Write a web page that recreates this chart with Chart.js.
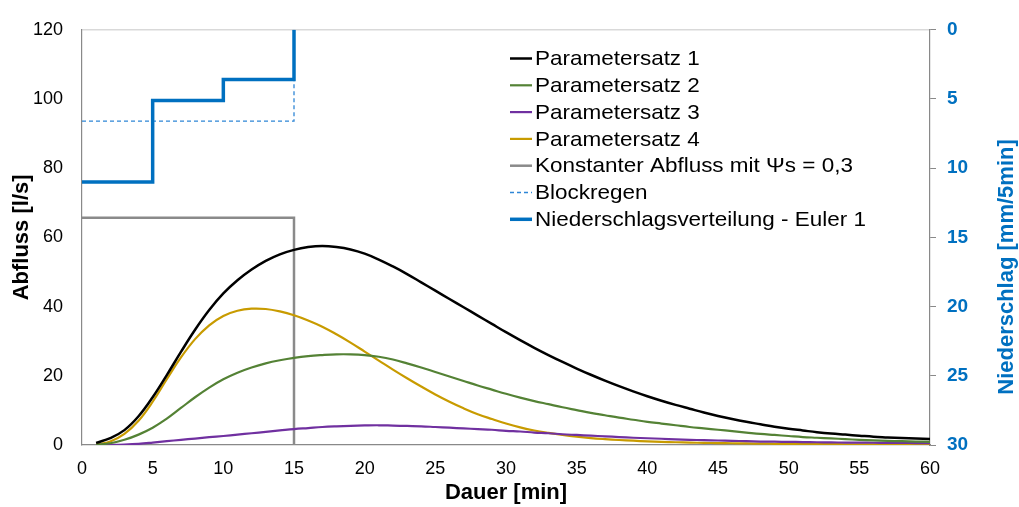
<!DOCTYPE html>
<html>
<head>
<meta charset="utf-8">
<script src="https://cdn.jsdelivr.net/npm/chart.js@4/dist/chart.umd.min.js"></script>
<style>
html,body{margin:0;padding:0;background:#fff;}
#wrap{width:1019px;height:507px;position:relative;}
</style>
</head>
<body>
<div id="wrap"><canvas id="c"></canvas></div>
<script>
// ---- data ----
const minutes = [1,2,3,4,5,6,7,8,9,10,11,12,13,14,15,16,17,18,19,20,21,22,23,24,25,26,27,28,29,30,31,32,33,34,35,36,37,38,39,40,41,42,43,44,45,46,47,48,49,50,51,52,53,54,55,56,57,58,59,60];
const parametersatz1 = [0.6,2.0,4.3,8.3,13.8,20.2,26.9,33.3,39.0,43.8,47.6,50.7,53.2,55.1,56.4,57.2,57.5,57.2,56.5,55.3,53.6,51.6,49.4,47.0,44.6,42.2,39.8,37.4,35.0,32.6,30.3,28.1,26.0,24.0,22.1,20.3,18.6,17.0,15.5,14.1,12.8,11.6,10.5,9.4,8.4,7.5,6.7,6.0,5.3,4.7,4.2,3.7,3.3,3.0,2.7,2.4,2.2,2.0,1.85,1.7];
const parametersatz2 = [0.1,0.5,1.5,3.0,5.0,7.6,10.7,13.8,16.6,19.0,20.9,22.4,23.6,24.5,25.2,25.7,26.0,26.2,26.2,26.0,25.5,24.7,23.6,22.4,21.1,19.8,18.5,17.2,16.0,14.8,13.7,12.7,11.8,10.9,10.1,9.3,8.6,7.9,7.3,6.7,6.2,5.7,5.2,4.8,4.4,4.0,3.6,3.2,2.9,2.6,2.3,2.1,1.9,1.7,1.5,1.35,1.2,1.1,1.0,0.9];
const parametersatz3 = [0,0.05,0.15,0.35,0.7,1.1,1.5,1.85,2.25,2.6,3.0,3.4,3.8,4.2,4.6,4.9,5.2,5.4,5.55,5.65,5.7,5.6,5.5,5.4,5.2,5.0,4.8,4.6,4.4,4.1,3.9,3.6,3.4,3.1,2.9,2.7,2.5,2.3,2.1,1.95,1.8,1.65,1.5,1.4,1.3,1.2,1.1,1.0,0.95,0.9,0.85,0.8,0.75,0.7,0.7,0.65,0.6,0.6,0.55,0.5];
const parametersatz4 = [0.1,1.0,3.2,7.0,12.5,19.0,25.3,30.6,34.6,37.3,38.8,39.4,39.3,38.6,37.5,36.0,34.2,32.0,29.6,27.0,24.4,21.8,19.3,16.9,14.6,12.5,10.6,8.9,7.5,6.2,5.1,4.2,3.5,2.9,2.4,2.0,1.7,1.45,1.25,1.05,0.9,0.8,0.7,0.6,0.55,0.5,0.45,0.4,0.35,0.3,0.3,0.25,0.25,0.2,0.2,0.2,0.15,0.15,0.1,0.1];
const rainEdges = [0,5,10,15];          // interval borders [min]
const eulerRain = [11.0,5.1,3.6];       // mm/5min per interval
const blockEdges = [0,15];
const blockRain = [6.6];                // mm/5min
const constEdges = [0,15];
const constFlow = [65.7];               // l/s
const labels = ['Parametersatz 1','Parametersatz 2','Parametersatz 3','Parametersatz 4','Konstanter Abfluss mit \u03A8s = 0,3','Blockregen','Niederschlagsverteilung - Euler 1'];

// ---- helpers ----
const curve = ys => minutes.map((m,i)=>({x:m,y:ys[i]}));
function steps(edges, vals){
  const pts=[];
  vals.forEach((v,i)=>{pts.push({x:edges[i],y:v});pts.push({x:edges[i+1],y:v});});
  pts.push({x:edges[edges.length-1],y:0});
  return pts;
}

const FONT = '"Liberation Sans", Arial, sans-serif';
const AXIS = '#898989';
const BLUE = '#0070c0';

const overlay = {
  id:'overlay',
  beforeDraw(chart){
    const c=chart.ctx; c.save(); c.fillStyle='#fff'; c.fillRect(0,0,chart.width,chart.height); c.restore();
  },
  afterDraw(chart){
    const c = chart.ctx;
    c.save();
    const x0=510, x1=532, tx=535, y0=58.5, dy=26.8, sx=1.07;
    chart.data.datasets.forEach((ds,i)=>{
      const y=y0+i*dy;
      c.beginPath();
      c.strokeStyle=ds.borderColor; c.lineWidth=ds.borderWidth; c.setLineDash(ds.borderDash||[]);
      c.moveTo(x0,y); c.lineTo(x1,y); c.stroke();
      c.setLineDash([]);
      c.save();
      c.translate(tx, y+1);
      c.scale(sx,1);
      c.fillStyle='#000'; c.font='21px '+FONT; c.textBaseline='middle'; c.textAlign='left';
      c.fillText(ds.label, 0, 0);
      c.restore();
    });
    c.translate(1006.5, 267);
    c.rotate(-Math.PI/2);
    c.font='bold 22px '+FONT; c.fillStyle=BLUE; c.textAlign='center'; c.textBaseline='middle';
    c.fillText('Niederschlag [mm/5min]',0,0);
    c.restore();
  }
};

const common = {pointRadius:0, pointHoverRadius:0, fill:false};
new Chart(document.getElementById('c'), {
  type:'line',
  data:{datasets:[
    {...common, label:labels[0], data:curve(parametersatz1), borderColor:'#000000', borderWidth:2.5, tension:0.4, yAxisID:'y'},
    {...common, label:labels[1], data:curve(parametersatz2), borderColor:'#548235', borderWidth:2.2, tension:0.4, yAxisID:'y'},
    {...common, label:labels[2], data:curve(parametersatz3), borderColor:'#7030a0', borderWidth:2.2, tension:0.4, yAxisID:'y'},
    {...common, label:labels[3], data:curve(parametersatz4), borderColor:'#c89b00', borderWidth:2.2, tension:0.4, yAxisID:'y'},
    {...common, label:labels[4], data:steps(constEdges,constFlow), borderColor:'#8a8a8a', borderWidth:2.5, tension:0, yAxisID:'y'},
    {...common, label:labels[5], data:steps(blockEdges,blockRain), borderColor:'#2e86d6', borderWidth:1.3, borderDash:[4,3], tension:0, yAxisID:'y2'},
    {...common, label:labels[6], data:steps(rainEdges,eulerRain), borderColor:BLUE, borderWidth:3.5, tension:0, yAxisID:'y2', order:-1}
  ]},
  options:{
    responsive:true, maintainAspectRatio:false, animation:false,
    layout:{padding:{top:21,left:0,right:0,bottom:0}},
    plugins:{legend:{display:false}, tooltip:{enabled:false}},
    scales:{
      x:{type:'linear', min:0, max:60,
        ticks:{stepSize:5, color:'#000', font:{family:FONT,size:18}, padding:13, maxRotation:0},
        grid:{drawOnChartArea:false, drawTicks:false},
        border:{color:AXIS, width:1.2},
        title:{display:true, text:'Dauer [min]', color:'#000', font:{family:FONT,size:22,weight:'bold'}, padding:{top:0,bottom:1}},
        afterFit:s=>{s.height=62;}
      },
      y:{position:'left', min:0, max:120,
        ticks:{stepSize:20, color:'#000', font:{family:FONT,size:18}, padding:19},
        grid:{drawTicks:false, color:ctx=>(ctx.tick && ctx.tick.value===120)?'#d9d9d9':'rgba(0,0,0,0)', lineWidth:1.5},
        border:{color:AXIS, width:1.2},
        title:{display:true, text:'Abfluss [l/s]', color:'#000', font:{family:FONT,size:22,weight:'bold'}, padding:{top:9,bottom:0}},
        afterFit:s=>{s.width=82;}
      },
      y2:{position:'right', min:0, max:30, reverse:true,
        ticks:{stepSize:5, color:BLUE, font:{family:FONT,size:19,weight:'bold'}, padding:11},
        grid:{drawOnChartArea:false, drawTicks:true, tickLength:6, color:AXIS},
        border:{color:AXIS, width:1.2},
        afterFit:s=>{s.width=89;}
      }
    }
  },
  plugins:[overlay]
});
</script>
</body>
</html>
